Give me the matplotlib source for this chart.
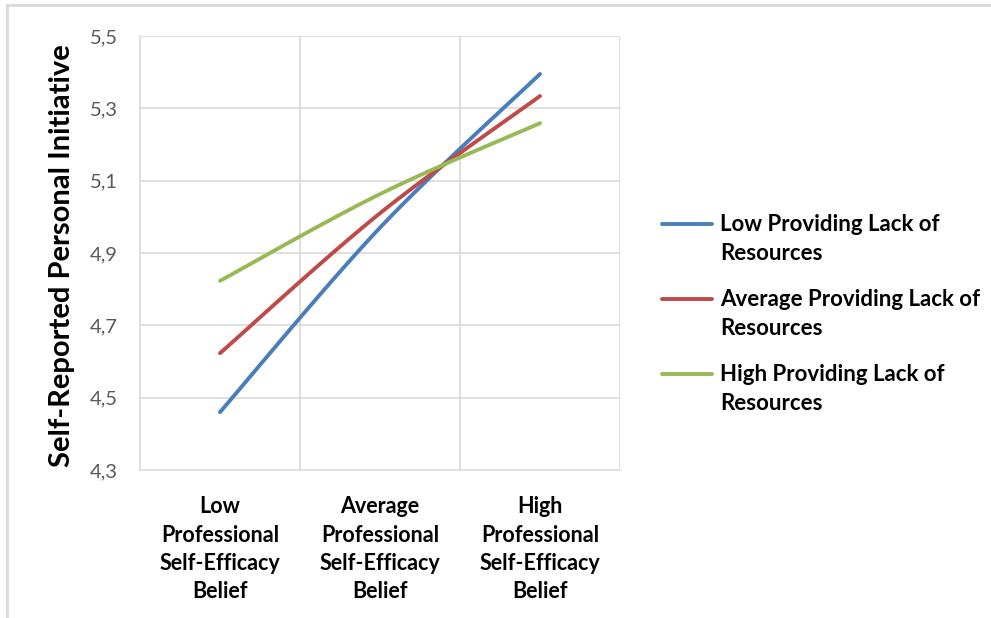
import numpy as np
import matplotlib
matplotlib.use("Agg")
import matplotlib.pyplot as plt
from matplotlib.lines import Line2D

categories = ["Low\nProfessional\nSelf-Efficacy\nBelief",
              "Average\nProfessional\nSelf-Efficacy\nBelief",
              "High\nProfessional\nSelf-Efficacy\nBelief"]
series_names = ["Low Providing Lack of\nResources",
                "Average Providing Lack of\nResources",
                "High Providing Lack of\nResources"]
low_lack = [4.46, 4.97, 5.395]
avg_lack = [4.623, 5.01, 5.334]
high_lack = [4.823, 5.063, 5.259]
y_ticks = [4.3, 4.5, 4.7, 4.9, 5.1, 5.3, 5.5]
y_ticklabels = ["4,3", "4,5", "4,7", "4,9", "5,1", "5,3", "5,5"]
colors = ["#4a7ebb", "#be4b48", "#98b954"]

FONT = "Lato"
plt.rcParams['font.family'] = [FONT, 'DejaVu Sans']

def smooth(xs, ys, n=40):
    pts = np.column_stack([xs, ys]).astype(float)
    P = np.vstack([pts[0], pts, pts[-1]])
    out = []
    t = np.linspace(0, 1, n)[:, None]
    for i in range(1, len(P) - 2):
        p0, p1, p2, p3 = P[i - 1], P[i], P[i + 1], P[i + 2]
        c1 = p1 + (p2 - p0) / 6.0
        c2 = p2 - (p3 - p1) / 6.0
        seg = ((1 - t) ** 3) * p1 + 3 * ((1 - t) ** 2) * t * c1 + 3 * (1 - t) * t ** 2 * c2 + t ** 3 * p2
        out.append(seg if i == 1 else seg[1:])
    arr = np.vstack(out)
    return arr[:, 0], arr[:, 1]

W, H = 991, 618
fig = plt.figure(figsize=(W / 100, H / 100), dpi=100)
ax = fig.add_axes([140 / W, 1 - 470 / H, 480 / W, 434 / H])

xpos = np.arange(len(categories)) + 0.5
for vals, c in zip([low_lack, avg_lack, high_lack], colors):
    sx, sy = smooth(xpos, vals)
    ax.plot(sx, sy, color=c, lw=2.8, solid_capstyle='round', zorder=3)

ax.set_xlim(0, 3)
ax.set_ylim(4.3, 5.5)
ax.set_yticks(y_ticks)
ax.set_yticklabels(y_ticklabels, fontsize=14.5, color="#595959")
ax.set_xticks(xpos)
ax.set_xticklabels(categories, fontsize=15.5, fontweight='bold', color="black", linespacing=1.42)
ax.tick_params(axis='x', length=0, pad=19)
ax.tick_params(axis='y', length=0, pad=16)
for xv in [1, 2, 3]:
    ax.axvline(xv, color="#d9d9d9", lw=1.2, zorder=1)
for yv in y_ticks[1:]:
    ax.axhline(yv, color="#d9d9d9", lw=1.2, zorder=1)
for s in ["top", "right"]:
    ax.spines[s].set_visible(False)
for s in ["left", "bottom"]:
    ax.spines[s].set_color("#d9d9d9")
    ax.spines[s].set_linewidth(1.2)

fig.text(62 / W, 1 - 256 / H, "Self-Reported Personal Initiative", rotation=90,
         fontsize=21, fontweight='bold', ha='center', va='center', color='black')

# Legend
leg_y = [224, 299, 374]
for name, c, yy in zip(series_names, colors, leg_y):
    fig.add_artist(Line2D([662 / W, 712 / W], [1 - yy / H, 1 - yy / H], color=c, lw=2.8,
                          solid_capstyle='round', transform=fig.transFigure))
    fig.text(720 / W, 1 - (yy - 10) / H, name, fontsize=16, fontweight='bold', ha='left', va='top',
             color='black', linespacing=1.5)

# Outer frame lines (top and left)
fig.add_artist(Line2D([7 / W, 1], [1 - 5 / H, 1 - 5 / H], color="#d9d9d9", lw=2, transform=fig.transFigure))
fig.add_artist(Line2D([7 / W, 7 / W], [0, 1 - 5 / H], color="#d9d9d9", lw=2, transform=fig.transFigure))

fig.savefig("out.png", dpi=100)
